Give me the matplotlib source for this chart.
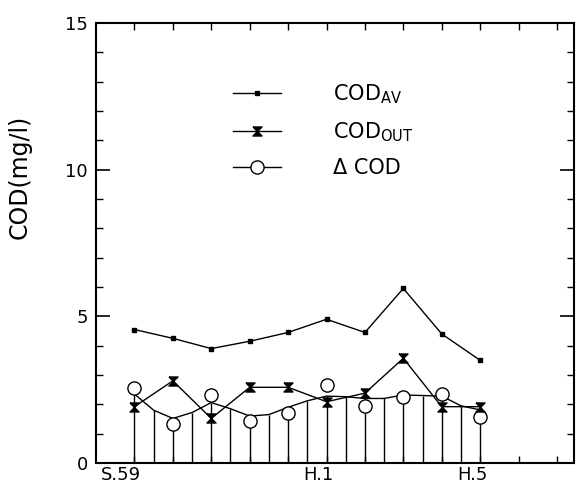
import matplotlib
matplotlib.use("Agg")
import matplotlib.pyplot as plt
from matplotlib.ticker import MultipleLocator
from matplotlib.transforms import ScaledTranslation

# Jahreswerte (S.59 = 1984 ... H.5 = 1993)
years = [1984, 1985, 1986, 1987, 1988, 1989, 1990, 1991, 1992, 1993]
cod_av = [4.55, 4.25, 3.9, 4.15, 4.45, 4.9, 4.45, 5.95, 4.4, 3.5]
cod_out = [1.92, 2.8, 1.52, 2.58, 2.58, 2.09, 2.38, 3.57, 1.92, 1.92]
delta_cod = [2.55, 1.33, 2.32, 1.43, 1.71, 2.66, 1.95, 2.24, 2.35, 1.58]

# geglaettete Kurve fuer delta COD, mit senkrechten Strichen darunter
stripe_x = [1984, 1984.5, 1985, 1985.5, 1986, 1986.5, 1987, 1987.5, 1988, 1988.5,
            1989, 1989.5, 1990, 1990.5, 1991, 1991.5, 1992, 1992.5, 1993]
stripe_top = [2.35, 1.8, 1.52, 1.72, 2.06, 1.85, 1.6, 1.65, 1.9, 2.12,
              2.28, 2.26, 2.2, 2.2, 2.32, 2.3, 2.28, 1.95, 1.81]

tick_years = [1984, 1985, 1986, 1987, 1988, 1989, 1990, 1991, 1992, 1993, 1994, 1995]
tick_labels = ["S.59", "", "", "", "", "H.1", "", "", "", "H.5", "", ""]

hourglass = [(-1, 1), (1, 1), (-1, -1), (1, -1), (-1, 1)]

fig = plt.figure(figsize=(5.76, 4.9), dpi=100)
ax = fig.add_axes([0.1667, 0.0551, 0.8303, 0.8980])

ax.vlines(stripe_x, 0, stripe_top, color="black", lw=1.0, zorder=1)
curve, = ax.plot(stripe_x, stripe_top, "-", color="black", lw=1.0, zorder=2)
circ, = ax.plot(years, delta_cod, "o", ms=9.5, mfc="white", mec="black",
                mew=1.0, zorder=4)
out, = ax.plot(years, cod_out, "-", marker=hourglass, ms=6.5, color="black",
               lw=1.0, zorder=5)
av, = ax.plot(years, cod_av, "-s", ms=3.5, color="black", lw=1.0, zorder=5)

ax.legend([av, out, (curve, circ)],
          [r"COD$_\mathregular{AV}$", r"COD$_\mathregular{OUT}$", "Δ COD"],
          loc="upper left", bbox_to_anchor=(0.286, 0.866), frameon=False,
          fontsize=15, handlelength=2.3, handletextpad=2.5, labelspacing=0.69,
          numpoints=1, borderpad=0, borderaxespad=0)

ax.set_xlim(1983.0, 1995.45)
ax.set_ylim(0, 15)
ax.set_xticks(tick_years)
ax.set_xticklabels(tick_labels)
ax.set_yticks([0, 5, 10, 15])
ax.yaxis.set_minor_locator(MultipleLocator(1))

ax.tick_params(axis="both", which="both", direction="in", top=True, right=True)
ax.tick_params(axis="y", which="major", length=10, width=1.2, labelsize=13, pad=6)
ax.tick_params(axis="y", which="minor", length=5, width=1.0)
ax.tick_params(axis="x", which="major", length=5, width=1.0, labelsize=13, pad=2)

for lab in ax.get_xticklabels():
    lab.set_ha("right")
    lab.set_transform(lab.get_transform() +
                      ScaledTranslation(7 / 100, 0, fig.dpi_scale_trans))

for sp in ax.spines.values():
    sp.set_linewidth(1.5)

ax.set_ylabel("COD(mg/l)", fontsize=17)
ax.yaxis.set_label_coords(-0.135, 0.65)

fig.savefig("out.png", dpi=100)
